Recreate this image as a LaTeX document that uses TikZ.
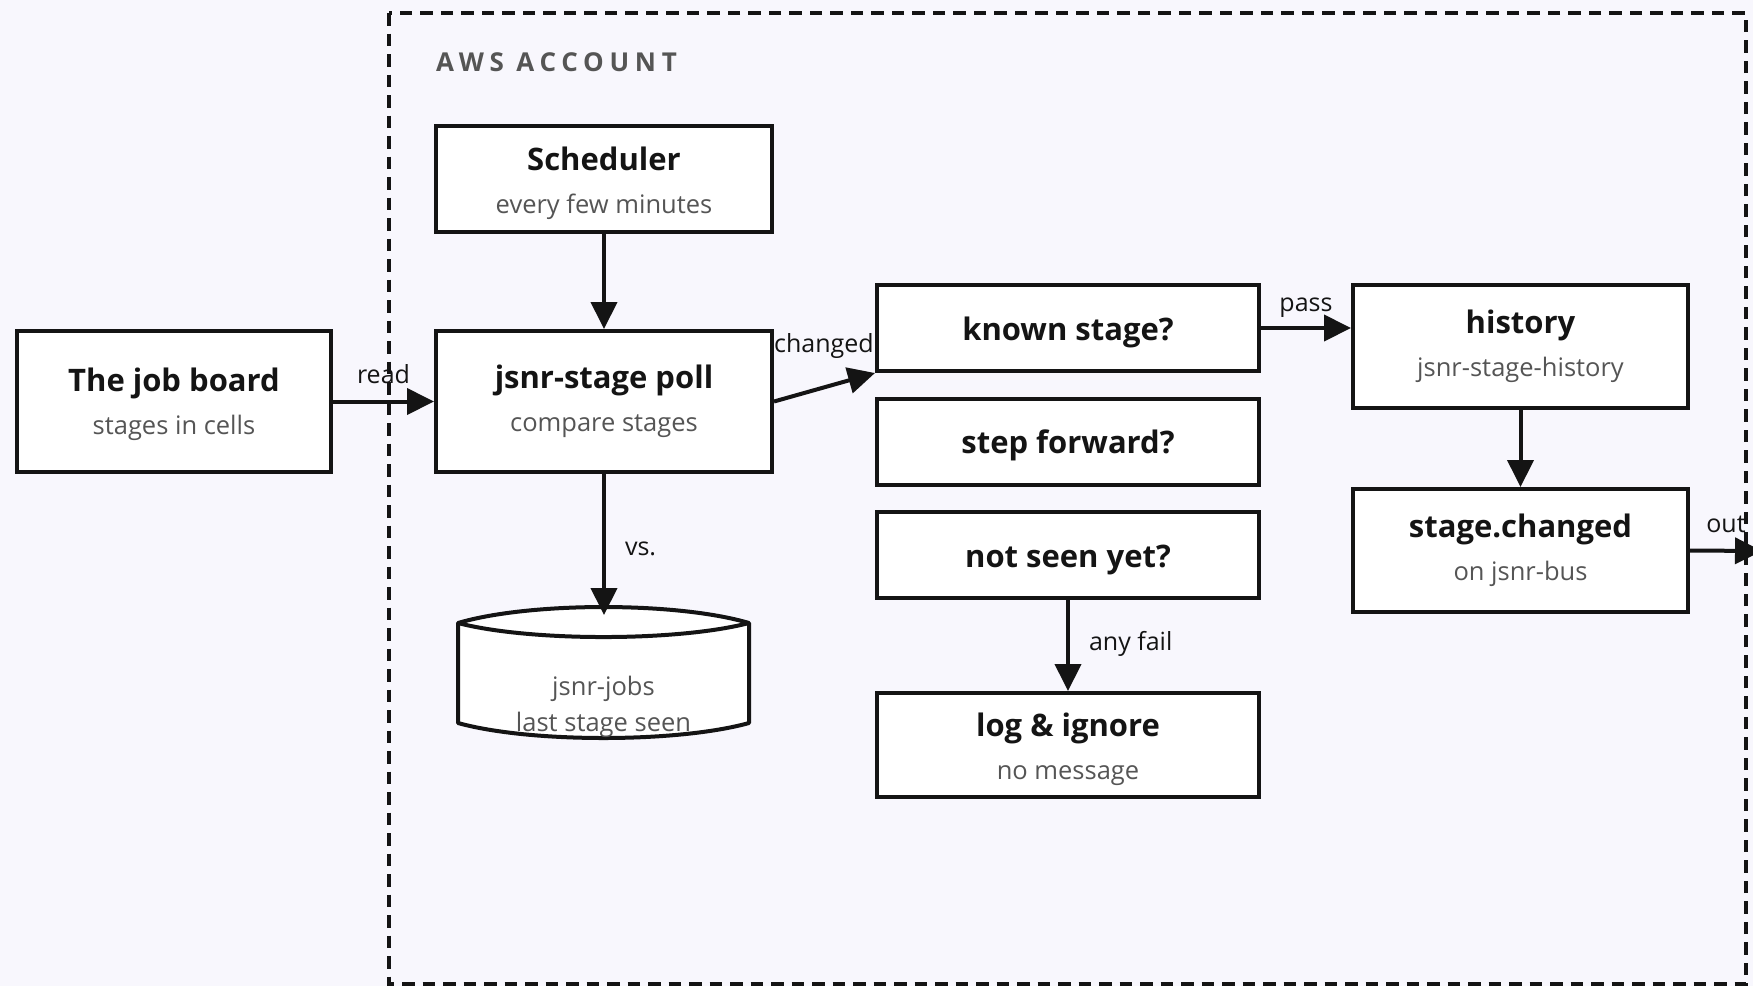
\documentclass[tikz,border=0pt]{standalone}
\usepackage{fontspec}
\setmainfont{Open Sans}
\newfontfamily\spacedcaps[LetterSpace=22]{Open Sans}
\usetikzlibrary{arrows.meta}

\definecolor{ink}{HTML}{141414}
\definecolor{muted}{HTML}{555555}
\definecolor{canvas}{HTML}{F8F7FD}

\newcommand{\boxhead}{\bfseries\fontsize{31}{43}\selectfont}
\newcommand{\boxsub}{\fontsize{25.5}{43}\selectfont\color{muted}}
\newcommand{\edgetext}{\fontsize{25}{28}\selectfont}
% taller first line, pushes a two-line label a little further down its box
\newcommand{\dropstrut}[1]{\rule{0pt}{#1}}

\begin{document}
\begin{tikzpicture}[x=1pt,y=-1pt,
  box/.style={draw=ink, line width=4pt, fill=white, inner sep=0pt,
    align=center, text=ink, font=\fontsize{25.5}{43}\selectfont},
  oneline/.style={box, text height=29pt, text depth=5pt},
  lbl/.style={font=\edgetext, text=ink, inner sep=0pt},
  arr/.style={draw=ink, line width=4pt, -{Triangle[length=27pt,width=26pt]}},
  zone/.style={draw=ink, line width=3.5pt, dash pattern=on 12.5pt off 8pt}]

% canvas
\clip (0,0) rectangle (1753,986);
\fill[canvas] (0,0) rectangle (1753,986);

% account boundary
\draw[zone] (389,13) rectangle (1746,984);
\node[anchor=base west, text=muted, inner sep=0pt,
  font=\spacedcaps\bfseries\fontsize{26}{30}\selectfont] (acct) at (436,71) {AWS ACCOUNT};

% boxes
\node[box, minimum width=314pt, minimum height=141pt] (board) at (174,401.5)
  {{\boxhead\dropstrut{30pt}The job board}\\{\boxsub stages in cells}};
\node[box, minimum width=336pt, minimum height=106pt] (sched) at (604,179)
  {{\boxhead\dropstrut{33pt}Scheduler}\\{\boxsub every few minutes}};
\node[box, minimum width=336pt, minimum height=141pt] (poll) at (604,401.5)
  {{\boxhead jsnr-stage poll}\\{\boxsub compare stages}};
\node[oneline, minimum width=382pt, minimum height=86pt] (known) at (1068,328)
  {{\boxhead known stage?}};
\node[oneline, minimum width=382pt, minimum height=86pt] (step) at (1068,441.5)
  {{\boxhead step forward?}};
\node[oneline, minimum width=382pt, minimum height=86pt] (unseen) at (1068,555)
  {{\boxhead not seen yet?}};
\node[box, minimum width=382pt, minimum height=104pt] (logi) at (1068,745)
  {{\boxhead\dropstrut{32pt}log \& ignore}\\{\boxsub no message}};
\node[box, minimum width=335pt, minimum height=123pt] (hist) at (1520.5,346.5)
  {{\boxhead history}\\{\boxsub jsnr-stage-history}};
\node[box, minimum width=335pt, minimum height=123pt] (chg) at (1520.5,550.5)
  {{\boxhead stage.changed}\\{\boxsub on jsnr-bus}};

% jobs table drawn as a cylinder
\filldraw[fill=white, draw=ink, line width=4pt, line join=round]
  (458,623) .. controls (530,601.7) and (677,601.7) .. (749,623)
  -- (749,723) .. controls (677,743) and (530,743) .. (458,723) -- cycle;
\draw[ink, line width=4pt]
  (458,623) .. controls (530,641.7) and (677,641.7) .. (749,623);
\coordinate (jobstop) at (604,615);
\node[inner sep=0pt, align=center, text=muted, font=\fontsize{25.5}{36}\selectfont]
  (jobs) at (603.5,707) {jsnr-jobs\\last stage seen};

\coordinate (outend) at (1762,551);

% connectors
\draw[arr] (sched) -- (poll);
\draw[arr] (board) -- (poll)
  node[lbl, midway, anchor=base, yshift=18.5pt] (lread) {read};
\draw[arr] (poll.east) -- (known.south west);
\node[lbl, anchor=base west] (lchanged) at ([xshift=0pt,yshift=49.5pt]poll.east) {changed};
\draw[arr] (known.east) -- (known.east -| hist.west)
  node[lbl, midway, anchor=base, yshift=17pt] (lpass) {pass};
\draw[arr] (hist) -- (chg);
\draw[arr] (chg.east) -- (outend)
  node[lbl, midway, anchor=base, yshift=18pt] (lout) {out};
\draw[arr] (poll) -- (jobstop)
  node[lbl, midway, anchor=base west, xshift=19pt, yshift=-10.5pt] (lvs) {vs.};
\draw[arr] (unseen) -- (logi)
  node[lbl, midway, anchor=base west, xshift=19pt, yshift=-4.5pt] (lfail) {any fail};

\end{tikzpicture}
\end{document}
